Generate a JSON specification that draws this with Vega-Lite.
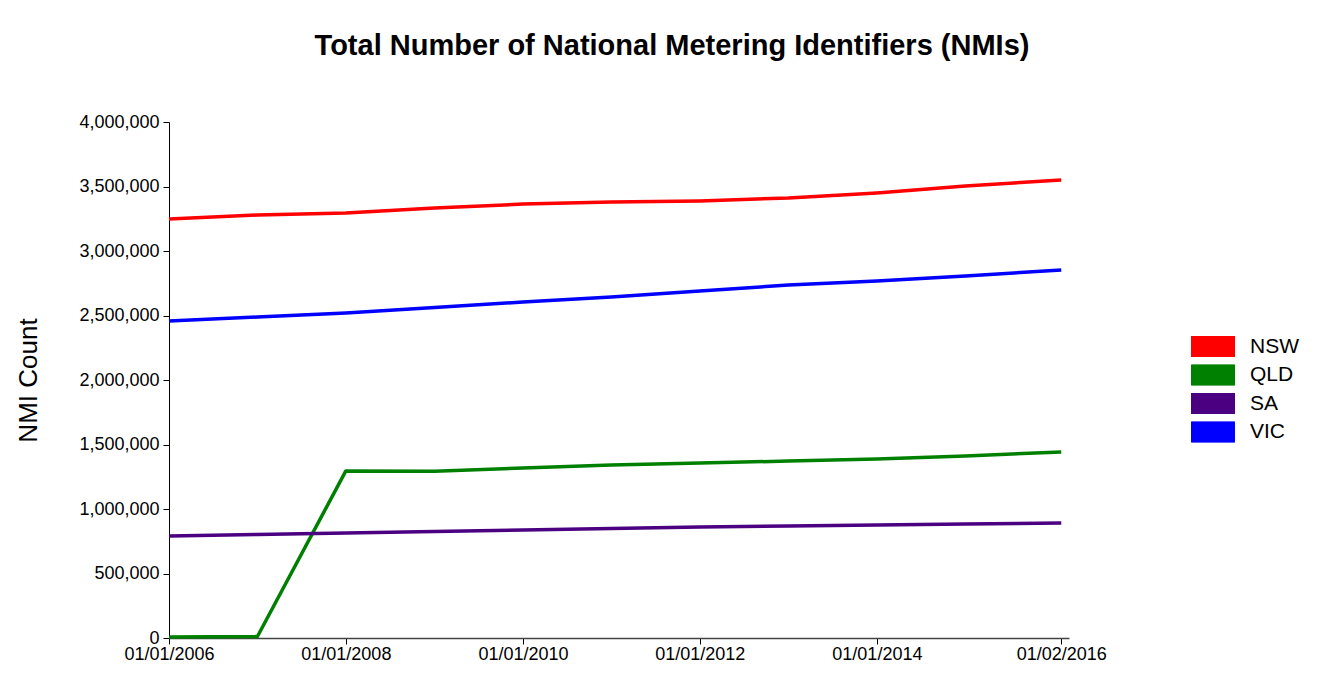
{
  "$schema": "https://vega.github.io/schema/vega-lite/v6.json",
  "width": 900,
  "height": 516,
  "autosize": {"type": "none"},
  "padding": {"left": 169, "top": 122, "right": 265, "bottom": 43},
  "background": "white",
  "title": {
    "text": "Total Number of National Metering Identifiers (NMIs)",
    "font": "Liberation Sans",
    "fontSize": 29,
    "fontWeight": "bold",
    "color": "black",
    "anchor": "middle",
    "frame": "group",
    "dx": 53,
    "offset": 52
  },
  "data": {
    "values": [
      {"date": "2006-01-01", "state": "NSW", "count": 3248000},
      {"date": "2007-01-01", "state": "NSW", "count": 3279000},
      {"date": "2008-01-01", "state": "NSW", "count": 3295000},
      {"date": "2009-01-01", "state": "NSW", "count": 3333000},
      {"date": "2010-01-01", "state": "NSW", "count": 3364000},
      {"date": "2011-01-01", "state": "NSW", "count": 3380000},
      {"date": "2012-01-01", "state": "NSW", "count": 3388000},
      {"date": "2013-01-01", "state": "NSW", "count": 3411000},
      {"date": "2014-01-01", "state": "NSW", "count": 3450000},
      {"date": "2015-01-01", "state": "NSW", "count": 3504000},
      {"date": "2016-02-01", "state": "NSW", "count": 3550000},
      {"date": "2006-01-01", "state": "QLD", "count": 8000},
      {"date": "2007-01-01", "state": "QLD", "count": 12000},
      {"date": "2008-01-01", "state": "QLD", "count": 1295000},
      {"date": "2009-01-01", "state": "QLD", "count": 1293000},
      {"date": "2010-01-01", "state": "QLD", "count": 1318000},
      {"date": "2011-01-01", "state": "QLD", "count": 1341000},
      {"date": "2012-01-01", "state": "QLD", "count": 1356000},
      {"date": "2013-01-01", "state": "QLD", "count": 1372000},
      {"date": "2014-01-01", "state": "QLD", "count": 1388000},
      {"date": "2015-01-01", "state": "QLD", "count": 1411000},
      {"date": "2016-02-01", "state": "QLD", "count": 1442000},
      {"date": "2006-01-01", "state": "SA", "count": 791000},
      {"date": "2007-01-01", "state": "SA", "count": 802000},
      {"date": "2008-01-01", "state": "SA", "count": 814000},
      {"date": "2009-01-01", "state": "SA", "count": 826000},
      {"date": "2010-01-01", "state": "SA", "count": 837000},
      {"date": "2011-01-01", "state": "SA", "count": 849000},
      {"date": "2012-01-01", "state": "SA", "count": 860000},
      {"date": "2013-01-01", "state": "SA", "count": 868000},
      {"date": "2014-01-01", "state": "SA", "count": 876000},
      {"date": "2015-01-01", "state": "SA", "count": 884000},
      {"date": "2016-02-01", "state": "SA", "count": 891000},
      {"date": "2006-01-01", "state": "VIC", "count": 2457000},
      {"date": "2007-01-01", "state": "VIC", "count": 2488000},
      {"date": "2008-01-01", "state": "VIC", "count": 2519000},
      {"date": "2009-01-01", "state": "VIC", "count": 2562000},
      {"date": "2010-01-01", "state": "VIC", "count": 2605000},
      {"date": "2011-01-01", "state": "VIC", "count": 2643000},
      {"date": "2012-01-01", "state": "VIC", "count": 2690000},
      {"date": "2013-01-01", "state": "VIC", "count": 2736000},
      {"date": "2014-01-01", "state": "VIC", "count": 2767000},
      {"date": "2015-01-01", "state": "VIC", "count": 2806000},
      {"date": "2016-02-01", "state": "VIC", "count": 2853000}
    ]
  },
  "mark": {"type": "line", "strokeWidth": 3.5, "strokeJoin": "round"},
  "encoding": {
    "x": {
      "field": "date",
      "type": "temporal",
      "scale": {
        "type": "utc",
        "domain": [
          {"year": 2006, "month": 1, "date": 1, "utc": true},
          {"year": 2016, "month": 3, "date": 4, "utc": true}
        ],
        "nice": false
      },
      "axis": {
        "title": null,
        "grid": false,
        "values": [
          {"year": 2006, "month": 1, "date": 1, "utc": true},
          {"year": 2008, "month": 1, "date": 1, "utc": true},
          {"year": 2010, "month": 1, "date": 1, "utc": true},
          {"year": 2012, "month": 1, "date": 1, "utc": true},
          {"year": 2014, "month": 1, "date": 1, "utc": true},
          {"year": 2016, "month": 2, "date": 1, "utc": true}
        ],
        "format": "%d/%m/%Y",
        "labelFont": "Liberation Sans",
        "labelFontSize": 18,
        "labelColor": "black",
        "labelPadding": 1,
        "labelFlush": false,
        "labelOverlap": false,
        "tickSize": 6,
        "tickColor": "black",
        "domainColor": "#444444",
        "domainWidth": 1.5
      }
    },
    "y": {
      "field": "count",
      "type": "quantitative",
      "scale": {"domain": [0, 4000000], "nice": false},
      "axis": {
        "title": "NMI Count",
        "titleFont": "Liberation Sans",
        "titleFontSize": 26,
        "titleFontWeight": "normal",
        "titleColor": "black",
        "titlePadding": 37,
        "grid": false,
        "values": [0, 500000, 1000000, 1500000, 2000000, 2500000, 3000000, 3500000, 4000000],
        "format": ",d",
        "labelFont": "Liberation Sans",
        "labelFontSize": 18,
        "labelColor": "black",
        "labelPadding": 4,
        "labelOverlap": false,
        "labelFlush": false,
        "tickSize": 6,
        "tickColor": "black",
        "domainColor": "black",
        "domainWidth": 1
      }
    },
    "color": {
      "field": "state",
      "type": "nominal",
      "scale": {
        "domain": ["NSW", "QLD", "SA", "VIC"],
        "range": ["#ff0000", "#008000", "#4b0082", "#0000ff"]
      },
      "legend": {
        "title": null,
        "orient": "none",
        "legendX": 1022,
        "legendY": 214,
        "padding": 0,
        "symbolType": "M-1,-0.488L1,-0.488L1,0.488L-1,0.488Z",
        "symbolSize": 1849,
        "symbolStrokeWidth": 1,
        "symbolStrokeColor": "black",
        "clipHeight": 21,
        "labelFont": "Liberation Sans",
        "labelFontSize": 21,
        "labelColor": "black",
        "labelOffset": 15,
        "rowPadding": 6.5,
        "encode": {
          "symbols": {
            "update": {
              "fill": {"scale": "color", "field": "value"},
              "stroke": {"value": "black"},
              "strokeWidth": {"value": 1},
              "opacity": {"value": 1}
            }
          }
        }
      }
    }
  },
  "config": {
    "view": {"stroke": null}
  }
}
